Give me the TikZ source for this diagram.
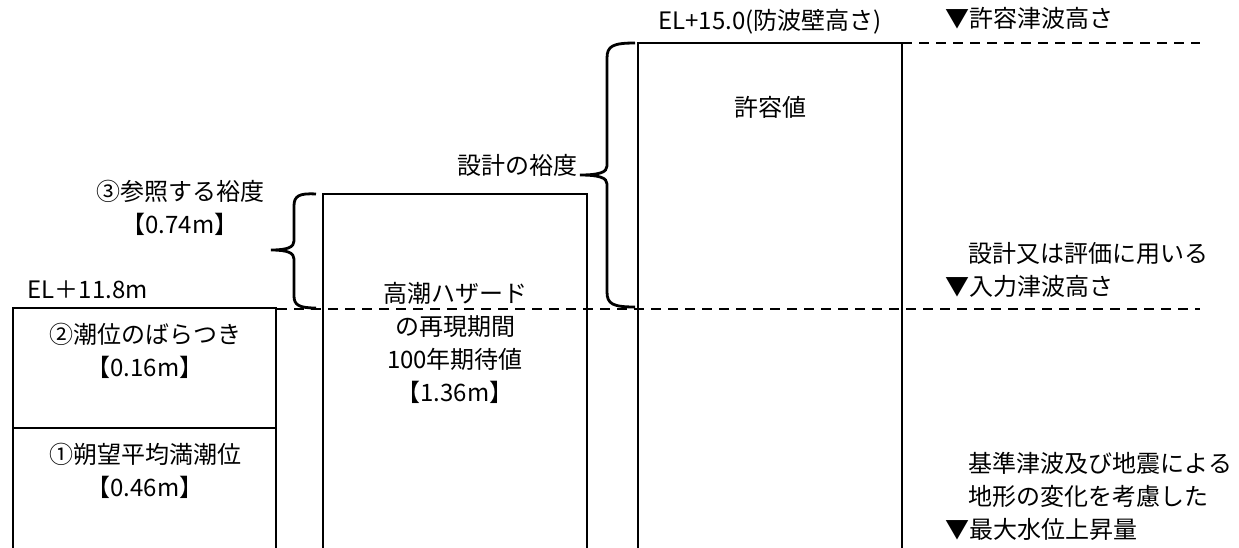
\documentclass[tikz,border=0pt]{standalone}
\usepackage{fontspec}
\setmainfont{Noto Sans CJK JP}
\begin{document}
\begin{tikzpicture}[x=1pt, y=-1pt, line width=1.6pt,
    lbl/.style={font=\fontsize{24}{33}\selectfont, inner sep=0pt, align=center},
    level/.style={dash pattern=on 10pt off 7pt, line width=1.4pt},
    margin/.style={line width=2.8pt}]
\useasboundingbox (0,0) rectangle (1239,547);

    % Left column: tide level
    \draw (13,552) -- (13,308) -- (276,308) -- (276,552);
    \draw (13,428) -- (276,428);
    \node[lbl, anchor=west] (elLow) at (27,290) {EL＋11.8m};
    \node[lbl] (tideVar) at (145,351) {②潮位のばらつき\\【0.16m】};
    \node[lbl] (tideMean) at (145,471) {①朔望平均満潮位\\【0.46m】};

    % Middle column: storm surge hazard
    \draw (323,552) -- (323,194) -- (587,194) -- (587,552);
    \node[lbl] (surge) at (455,343) {高潮ハザード\\の再現期間\\100年期待値\\【1.36m】};
    \draw[margin] (316,194) .. controls (299,193) and (294,196) .. (294,206) -- (294,241)
        .. controls (294,247) and (288,250) .. (271,250)
        .. controls (288,250) and (294,253) .. (294,259) -- (294,296)
        .. controls (294,305) and (299,308) .. (316,308);
    \node[lbl] (refMargin) at (180,208) {③参照する裕度\\【0.74m】};

    % Right column: allowable value
    \draw (638,552) -- (638,43) -- (902,43) -- (902,552);
    \node[lbl] (allow) at (770,107) {許容値};
    \node[lbl] (elHigh) at (770,22) {EL+15.0(防波壁高さ)};
    \draw[margin] (635,43) .. controls (613,43) and (607,46) .. (607,58) -- (607,166)
        .. controls (607,172) and (600,175) .. (580,175)
        .. controls (600,175) and (607,178) .. (607,184) -- (607,292)
        .. controls (607,304) and (613,307) .. (635,307);
    \node[lbl, anchor=east] (designMargin) at (578,165) {設計の裕度};

    % Reference levels
    \coordinate (topL) at (902,43);
    \coordinate (topR) at (1200,43);
    \coordinate (midL) at (277,309);
    \coordinate (midR) at (1200,309);
    \draw[level] (topL) -- (topR);
    \draw[level] (midL) -- (midR);

    \node[lbl, anchor=west] (allowH) at (945,18) {▼許容津波高さ};
    \node[lbl, anchor=west, align=left] (inputH) at (945,270) {\hspace*{23pt}設計又は評価に用いる\\▼入力津波高さ};
    \node[lbl, anchor=west, align=left] (riseH) at (945,496) {\hspace*{23pt}基準津波及び地震による\\\hspace*{23pt}地形の変化を考慮した\\▼最大水位上昇量};

\end{tikzpicture}
\end{document}
